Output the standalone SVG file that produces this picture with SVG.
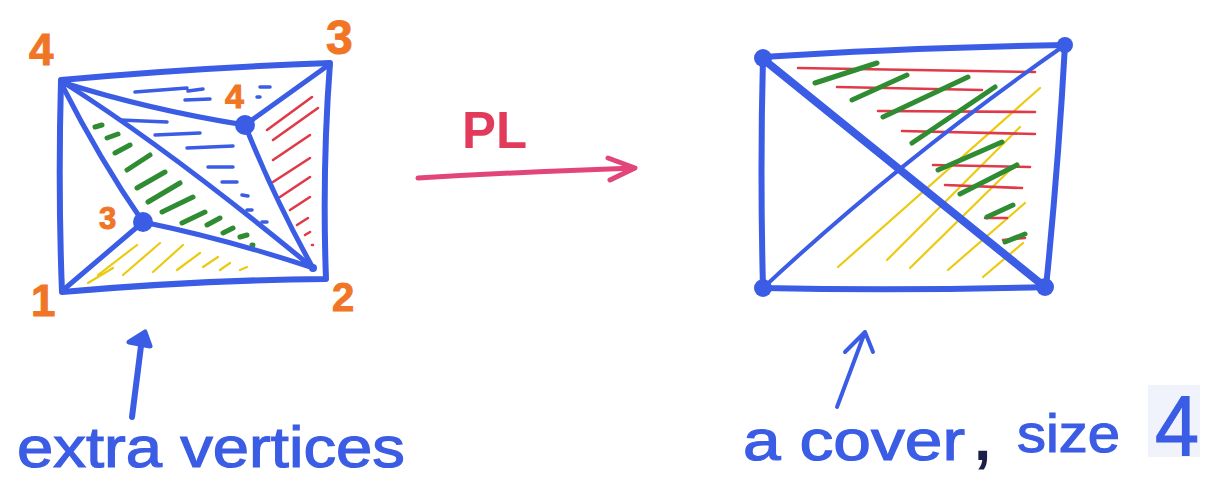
<svg xmlns="http://www.w3.org/2000/svg" width="1214" height="484" viewBox="0 0 1214 484">
<style>
.b{stroke:#3b5ce4;fill:none;stroke-linecap:round;stroke-linejoin:round}
.g{stroke:#2f8c33;fill:none;stroke-linecap:round;stroke-width:5}
.r{stroke:#e03a48;fill:none;stroke-linecap:round;stroke-width:2.6}
.y{stroke:#ecca12;fill:none;stroke-linecap:round;stroke-width:2.2}
.bh{stroke:#3b5ce4;fill:none;stroke-linecap:round;stroke-width:3.5}
.dot{fill:#3b5ce4}
.o{fill:#f07626;stroke:#f07626;stroke-width:1;font-family:"Liberation Sans",Arial,sans-serif;font-weight:bold}
.t{fill:#3b5ce4;stroke:#3b5ce4;stroke-width:1.2;font-family:"Liberation Sans",Arial,sans-serif}
</style>
<rect width="1214" height="484" fill="#ffffff"/>

<g id="left-figure">
  <g id="left-hatch">
    <path class="bh" d="M135 92 L187 88 M188 91 L203 89 M185 100 L210 99 M260 87 L270 87 M257 97 L260 97 M120 120 L167 122 M155 135 L200 133 M187 148 L233 146 M208 167 L233 167 M222 182 L237 182 M242 195 L248 196 M247 210 L252 210 M262 222 L267 222"/>
    <path class="g" d="M95 127 L102 125 M107 138 L118 134 M115 153 L130 145 M127 170 L150 155 M137 188 L165 172 M148 202 L180 183 M162 212 L193 197 M182 223 L205 212 M207 225 L220 218 M223 233 L233 228 M240 237 L247 235 M252 245 L253 245"/>
    <path class="r" d="M267 130 L312 97 M273 140 L318 108 M273 160 L310 135 M273 182 L310 158 M280 197 L310 177 M290 210 L310 197 M297 225 L308 218 M305 235 L310 232 M312 245 L313 245"/>
    <path class="y" d="M88 283 L113 268 M98 275 L137 245 M123 275 L160 243 M153 272 L183 245 M177 270 L200 253 M203 267 L218 257 M220 270 L230 263 M240 270 L247 267"/>
  </g>
  <g id="left-edges">
    <path class="b" stroke-width="6" d="M61 80 Q190 68 330 63 Q322 170 326 279 Q200 280 62 292 Q58 190 61 80 Z"/>
    <path class="b" stroke-width="5" d="M61 82 Q150 110 245 125 M330 64 L245 125 M245 125 Q275 200 313 268"/>
    <path class="b" stroke-width="5" d="M62 85 Q100 160 143 222 M66 84 Q170 150 313 268 M143 222 L62 291 M143 222 Q230 240 313 268"/>
  </g>
  <g id="left-vertices">
    <circle class="dot" cx="245" cy="125" r="10"/>
    <circle class="dot" cx="143" cy="222" r="10"/>
    <circle class="dot" cx="313" cy="268" r="4"/>
  </g>
  <g id="left-labels">
    <text class="o" x="29" y="65" font-size="44">4</text>
    <text class="o" x="326" y="54" font-size="48">3</text>
    <text class="o" x="31" y="316" font-size="44">1</text>
    <text class="o" x="332" y="311" font-size="40">2</text>
    <text class="o" x="225" y="108" font-size="34">4</text>
    <text class="o" x="99" y="229" font-size="31">3</text>
  </g>
</g>

<g id="pl-arrow">
  <path d="M418 178 Q520 172 635 168 M608 158 L635 168 L610 180" fill="none" stroke="#e2457a" stroke-width="5" stroke-linecap="round" stroke-linejoin="round"/>
  <text x="462" y="148" font-size="52" font-weight="bold" fill="#e23a5a" font-family="'Liberation Sans',Arial,sans-serif" textLength="65" lengthAdjust="spacingAndGlyphs">PL</text>
</g>

<g id="right-figure">
  <g id="right-hatch">
    <path class="y" d="M838 267 L1040 88 M887 260 L1020 127 M910 268 L1017 163 M948 270 L1025 203 M983 277 L1023 243"/>
    <path class="r" d="M798 68 Q900 70 1035 72 M837 87 L982 90 M878 111 L1035 112 M902 131 L1035 134 M933 165 L1030 167 M945 185 L1022 188 M985 218 L1007 218 M1003 240 L1025 238"/>
    <path class="g" stroke-width="6" d="M815 83 L877 63 M852 100 L907 75 M883 117 L968 77 M912 143 L995 87 M938 170 L1002 142 M960 194 L1017 165 M987 217 L1013 205 M1005 242 L1025 234"/>
  </g>
  <g id="right-edges">
    <path class="b" stroke-width="6" d="M763 57 Q900 48 1065 45 Q1058 170 1046 287 Q900 291 763 288 Q760 170 763 57 Z"/>
    <path class="b" stroke-width="8" d="M763 59 L1045 287"/>
    <path class="b" stroke-width="4" d="M763 288 Q900 160 1065 45"/>
  </g>
  <g id="right-vertices">
    <circle class="dot" cx="763" cy="58" r="9"/>
    <circle class="dot" cx="1065" cy="45" r="8"/>
    <circle class="dot" cx="763" cy="288" r="9"/>
    <circle class="dot" cx="1045" cy="287" r="9"/>
  </g>
</g>

<g id="label-extra">
  <path d="M132 417 L142 338" fill="none" stroke="#3b5ce4" stroke-width="6" stroke-linecap="round"/>
  <path d="M129 342 L145 332 L150 346 Z" fill="#3b5ce4" stroke="#3b5ce4" stroke-width="5" stroke-linejoin="round"/>
  <text class="t" x="17" y="467" font-size="58" textLength="388" lengthAdjust="spacingAndGlyphs">extra vertices</text>
</g>

<g id="label-cover">
  <rect x="1148" y="385" width="52" height="72" fill="#f1f3fc"/>
  <path d="M837 407 L865 332 M845 352 L865 332 L873 352" fill="none" stroke="#3b5ce4" stroke-width="4" stroke-linecap="round" stroke-linejoin="round"/>
  <text class="t" x="743" y="460" font-size="58" textLength="222" lengthAdjust="spacingAndGlyphs">a cover</text>
  <text x="974" y="460" font-size="62" font-weight="bold" fill="#1c1f4a" font-family="'Liberation Sans',Arial,sans-serif">,</text>
  <text class="t" x="1017" y="452" font-size="54" textLength="103" lengthAdjust="spacingAndGlyphs">size</text>
  <text class="t" x="1155" y="455" font-size="86" textLength="44" lengthAdjust="spacingAndGlyphs">4</text>
</g>
</svg>
